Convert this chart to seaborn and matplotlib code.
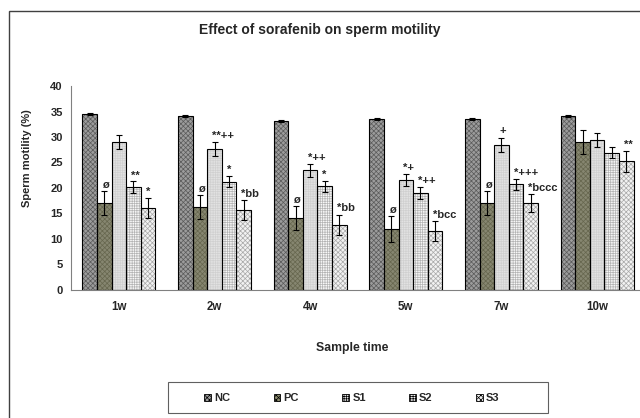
import pandas as pd
import numpy as np
import matplotlib
matplotlib.use('Agg')
import matplotlib.pyplot as plt
from matplotlib.patches import Patch, Rectangle
import seaborn as sns

weeks = ['1w', '2w', '4w', '5w', '7w', '10w']
groups = ['NC', 'PC', 'S1', 'S2', 'S3']

nc_mean = [34.5, 34.1, 33.1, 33.6, 33.5, 34.2]
nc_err = [0.2, 0.2, 0.2, 0.2, 0.2, 0.2]
pc_mean = [17.1, 16.3, 14.1, 12.0, 17.1, 29.0]
pc_err = [2.4, 2.3, 2.4, 2.5, 2.4, 2.4]
s1_mean = [29.0, 27.7, 23.5, 21.6, 28.5, 29.4]
s1_err = [1.4, 1.4, 1.3, 1.2, 1.4, 1.4]
s2_mean = [20.2, 21.2, 20.3, 19.0, 20.7, 26.9]
s2_err = [1.1, 1.1, 1.1, 1.1, 1.1, 1.1]
s3_mean = [16.1, 15.7, 12.8, 11.6, 17.1, 25.2]
s3_err = [1.9, 1.9, 2.0, 1.9, 1.8, 2.0]

nc_note = ['', '', '', '', '', '']
pc_note = ['ø', 'ø', 'ø', 'ø', 'ø', '']
s1_note = ['', '**++', '*++', '*+', '+', '']
s2_note = ['**', '*', '*', '*++', '*+++', '']
s3_note = ['*', '*bb', '*bb', '*bcc', '*bccc', '**']

means = [nc_mean, pc_mean, s1_mean, s2_mean, s3_mean]
errs = [nc_err, pc_err, s1_err, s2_err, s3_err]
notes = [nc_note, pc_note, s1_note, s2_note, s3_note]

# face colour, hatch, hatch colour per group
styles = {
    'NC': ('#9c9c9c', 'xxxxxxx', '#5a5a5a'),
    'PC': ('#8a8a6c', 'xxxxxxx', '#66664e'),
    'S1': ('#e2e2e2', '+++++++', '#d0d0d0'),
    'S2': ('#f8f8f8', '+++++++', '#b4b4b4'),
    'S3': ('#f2f2f2', 'xxxxxxx', '#a8a8a8'),
}

rows = []
for g, m in zip(groups, means):
    for w, v in zip(weeks, m):
        rows.append({'week': w, 'group': g, 'motility': v})
df = pd.DataFrame(rows)

sns.set_style('white')
plt.rcParams['font.family'] = ['Liberation Sans', 'DejaVu Sans']
plt.rcParams['hatch.linewidth'] = 0.5

fig = plt.figure(figsize=(6.4, 4.18), dpi=100)
ax = fig.add_axes([71 / 640, 1 - 290 / 418, 574 / 640, 204 / 418])

sns.barplot(data=df, x='week', y='motility', hue='group', order=weeks,
            hue_order=groups, width=0.76, errorbar=None, legend=False,
            palette={g: styles[g][0] for g in groups}, linewidth=0, ax=ax)

bar_conts = list(ax.containers)
for i, cont in enumerate(bar_conts):
    face, hatch, hcol = styles[groups[i]]
    for j, bar in enumerate(cont):
        bar.set_hatch(hatch)
        bar.set_edgecolor(hcol)
        bar.set_linewidth(0)
        ax.add_patch(Rectangle(bar.get_xy(), bar.get_width(), bar.get_height(),
                               fill=False, edgecolor='black', lw=0.8, zorder=3))
        cx = bar.get_x() + bar.get_width() / 2
        top = bar.get_height()
        ax.errorbar(cx, top, yerr=errs[i][j], color='black', lw=0.8,
                    capsize=2.5, capthick=0.8, zorder=4)
        if notes[i][j]:
            ax.text(cx - 0.025, top + errs[i][j] + 0.2, notes[i][j],
                    ha='left', va='bottom', fontsize=8, fontweight='bold',
                    clip_on=False)

ax.set_xlim(-0.5, 5.5)
ax.set_ylim(0, 40)
ax.set_yticks(range(0, 41, 5))
ax.set_xticks(np.arange(-0.5, 6, 1), minor=True)
ax.tick_params(axis='x', which='major', length=0, pad=8, labelsize=8.3)
ax.tick_params(axis='x', which='minor', length=4, color='#808080', width=0.8)
ax.tick_params(axis='y', length=3, color='#808080', width=0.8, pad=3, labelsize=8)
for lab in ax.get_xticklabels() + ax.get_yticklabels():
    lab.set_fontweight('bold')
sns.despine(ax=ax)
ax.spines['left'].set_color('#808080')
ax.spines['bottom'].set_color('#808080')
ax.spines['left'].set_linewidth(0.8)
ax.spines['bottom'].set_linewidth(0.8)

ax.set_xlabel('Sample time', fontsize=8.8, fontweight='bold')
ax.xaxis.set_label_coords(0.49, -0.255)
ax.set_ylabel('Sperm motility (%)', fontsize=8, fontweight='bold')
ax.yaxis.set_label_coords(-0.068, 0.647)

fig.text(320 / 640, 1 - 30 / 418, 'Effect of sorafenib on sperm motility',
         ha='center', va='center', fontsize=10, fontweight='bold')

# outer frame of the figure
fig.patches.append(Rectangle((9 / 640, -0.1), 1.2, 1 - 11 / 418 + 0.1,
                             transform=fig.transFigure, fill=False,
                             edgecolor='#404040', lw=1.0))
# legend frame
fig.patches.append(Rectangle((168 / 640, 1 - 413 / 418), 380 / 640, 31 / 418,
                             transform=fig.transFigure, fill=False,
                             edgecolor='#606060', lw=0.8))

handles = [Patch(facecolor=styles[g][0], hatch=styles[g][1], edgecolor='black',
                 lw=0.6, label=g) for g in groups]
fig.legend(handles=handles, loc='center', bbox_to_anchor=(352 / 640, 1 - 398 / 418),
           ncol=5, frameon=False, handlelength=0.6, handleheight=0.6,
           handletextpad=0.3, columnspacing=3.9,
           prop={'weight': 'bold', 'size': 8})

fig.savefig('out.png', dpi=100)
